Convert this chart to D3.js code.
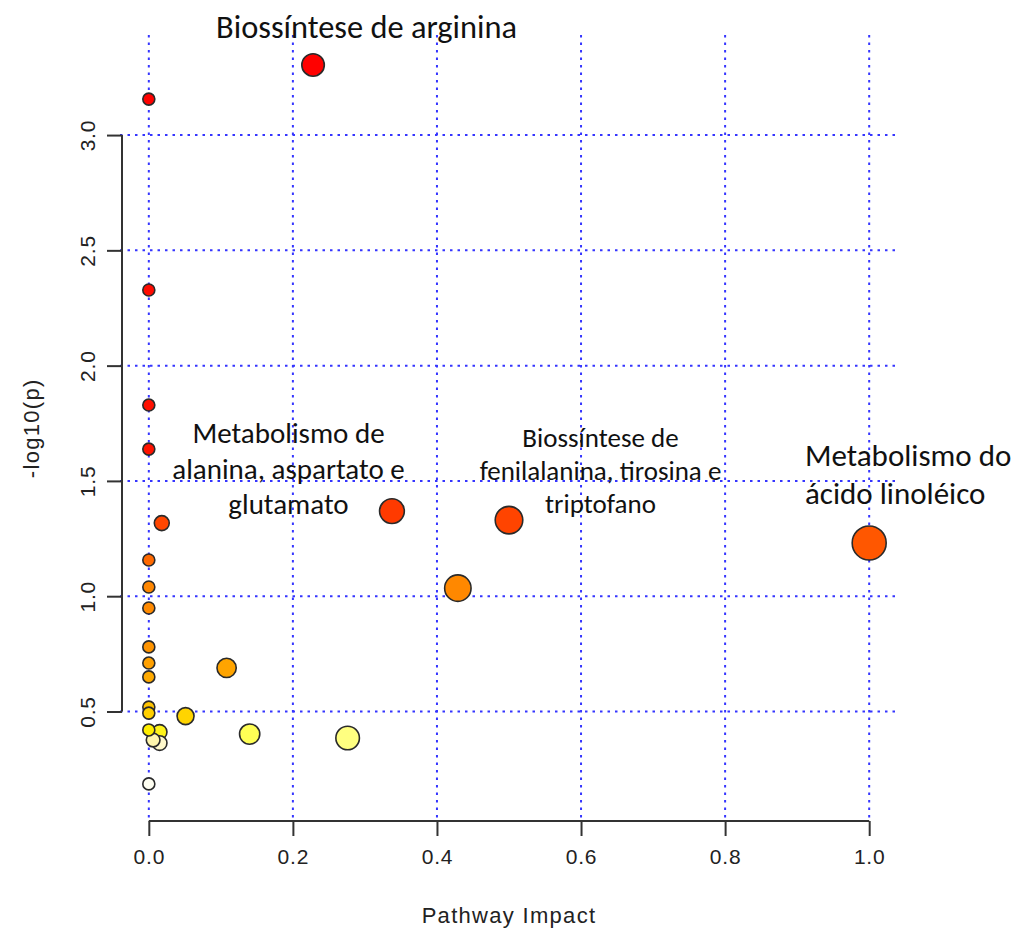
<!DOCTYPE html>
<html>
<head>
<meta charset="utf-8">
<script src="https://cdn.jsdelivr.net/npm/d3@7"></script>
<style>
  html, body { margin: 0; padding: 0; background: #fff; }
  svg { display: block; }
</style>
</head>
<body>
<svg id="chart" width="1016" height="929"></svg>
<script>
// Pathway impact (x) and -log10(p) (y), one entry per pathway
const pathwayImpact = [
  0.228, 0.000, 0.000, 0.000, 0.000, 0.3375, 0.500, 0.018, 1.000,
  0.000, 0.000, 0.429, 0.000, 0.000, 0.000, 0.108, 0.000, 0.000,
  0.000, 0.051, 0.000, 0.015, 0.140, 0.276, 0.006, 0.015, 0.000
];
const negLog10P = [
  3.304, 3.156, 2.328, 1.829, 1.638, 1.369, 1.330, 1.317, 1.231,
  1.157, 1.040, 1.035, 0.949, 0.780, 0.710, 0.689, 0.650, 0.519,
  0.493, 0.480, 0.420, 0.411, 0.402, 0.385, 0.376, 0.363, 0.186
];

const xTicks = [0.0, 0.2, 0.4, 0.6, 0.8, 1.0];
const yTicks = [0.5, 1.0, 1.5, 2.0, 2.5, 3.0];

// Annotated pathways: anchor in data units plus text lines
const annotations = [
  { x: 0.3022, y: 3.421, lines: ["Biossíntese de arginina"], size: 32.4, anchor: "middle", lead: 0 },
  { x: 0.1939, y: 1.664, lines: ["Metabolismo de", "alanina, aspartato e", "glutamato"], size: 29, anchor: "middle", lead: 35.5 },
  { x: 0.6270, y: 1.647, lines: ["Biossíntese de", "fenilalanina, tirosina e", "triptofano"], size: 27, anchor: "middle", lead: 33 },
  { x: 0.9109, y: 1.565, lines: ["Metabolismo do", "ácido linoléico"], size: 31, anchor: "start", lead: 38 }
];

// Heat-style fill keyed to significance
const colourStops = [0.186, 0.363, 0.376, 0.385, 0.402, 0.411, 0.42, 0.48, 0.519, 0.65, 0.69, 0.78, 0.95, 1.035, 1.23, 1.33, 1.37, 1.63, 3.4];
const colourRange = ["#fffff2", "#fff9cc", "#fff6ad", "#ffff80", "#ffff55", "#fff41c", "#ffee00", "#ffd400", "#ffc400",
                     "#ffaa00", "#ffa400", "#ff9400", "#ff8a00", "#ff8800", "#ff5700", "#ff4400", "#ff3a00", "#ff1200", "#ff0000"];

const svg = d3.select("#chart");

const x = d3.scaleLinear().domain([-0.04, 1.04]).range([120, 898]);
const y = d3.scaleLinear().domain([0.025, 3.434]).range([821, 35]);
const r = d3.scaleSqrt().domain([0, 1]).range([6, 17]);
const fill = d3.scaleLinear().domain(colourStops).range(colourRange).clamp(true);

const [xl, xr] = x.range();
const [yb, yt] = y.range();

const axisFont = "'Liberation Sans', Arial, sans-serif";
const axisText = (sel, size = 21, spacing = 0.8) => sel
  .attr("fill", "#222")
  .style("font-family", axisFont)
  .style("font-size", size + "px")
  .style("letter-spacing", spacing + "px");

// Dotted blue grid over the plotting region
const grid = svg.append("g")
  .attr("stroke", "#3535ff")
  .attr("stroke-width", 2)
  .attr("stroke-dasharray", "2.5,5");
grid.selectAll("line.v").data(xTicks).join("line").attr("class", "v")
  .attr("x1", d => x(d)).attr("x2", d => x(d))
  .attr("y1", yt).attr("y2", yb);
grid.selectAll("line.h").data(yTicks).join("line").attr("class", "h")
  .attr("x1", xl).attr("x2", xr)
  .attr("y1", d => y(d)).attr("y2", d => y(d));

// Axes
const axisColour = "#333";
const xAxis = svg.append("g")
  .attr("transform", `translate(0,${yb})`)
  .call(d3.axisBottom(x).tickValues(xTicks).tickFormat(d3.format(".1f")).tickSize(15).tickPadding(13));
xAxis.select(".domain").remove();
xAxis.append("line")
  .attr("x1", x(xTicks[0])).attr("x2", x(xTicks[xTicks.length - 1]))
  .attr("stroke", axisColour).attr("stroke-width", 2);
xAxis.selectAll(".tick line").attr("stroke", axisColour).attr("stroke-width", 2);
xAxis.selectAll(".tick text").call(axisText);

const yAxis = svg.append("g")
  .attr("transform", `translate(${xl + 2},0)`)
  .call(d3.axisLeft(y).tickValues(yTicks).tickFormat(d3.format(".1f")).tickSize(15).tickPadding(0));
yAxis.select(".domain").remove();
yAxis.append("line")
  .attr("y1", y(yTicks[0])).attr("y2", y(yTicks[yTicks.length - 1]))
  .attr("stroke", axisColour).attr("stroke-width", 2);
yAxis.selectAll(".tick line").attr("stroke", axisColour).attr("stroke-width", 2);
yAxis.selectAll(".tick text")
  .attr("x", 0).attr("dy", 0)
  .attr("text-anchor", "middle")
  .attr("transform", "translate(-27,0) rotate(-90)")
  .call(axisText);

// Axis titles
svg.append("text")
  .attr("x", (x(0) + x(1)) / 2).attr("y", 923)
  .attr("text-anchor", "middle")
  .call(axisText, 22, 1.3)
  .text("Pathway Impact");
svg.append("text")
  .attr("transform", `translate(39,${(y(0.5) + y(3.0)) / 2 + 5}) rotate(-90)`)
  .attr("text-anchor", "middle")
  .call(axisText, 22, 1.3)
  .text("-log10(p)");

// Pathway circles, drawn smallest last so clusters stay readable
const points = d3.range(pathwayImpact.length).map(i => ({ impact: pathwayImpact[i], p: negLog10P[i] }));
points.sort((a, b) => b.impact - a.impact);
svg.append("g")
  .selectAll("circle").data(points).join("circle")
  .attr("cx", d => x(d.impact))
  .attr("cy", d => y(d.p))
  .attr("r", d => r(d.impact))
  .attr("fill", d => fill(d.p))
  .attr("stroke", "#2a2a2a")
  .attr("stroke-width", 1.6);

// Pathway names
const labelFont = "Carlito, Calibri, Lato, 'Open Sans', sans-serif";
annotations.forEach(a => {
  const t = svg.append("text")
    .attr("text-anchor", a.anchor)
    .attr("fill", "#111")
    .style("font-family", labelFont)
    .style("font-size", a.size + "px");
  a.lines.forEach((line, i) => {
    t.append("tspan")
      .attr("x", x(a.x))
      .attr("y", y(a.y) + i * a.lead)
      .text(line);
  });
});
</script>
</body>
</html>
